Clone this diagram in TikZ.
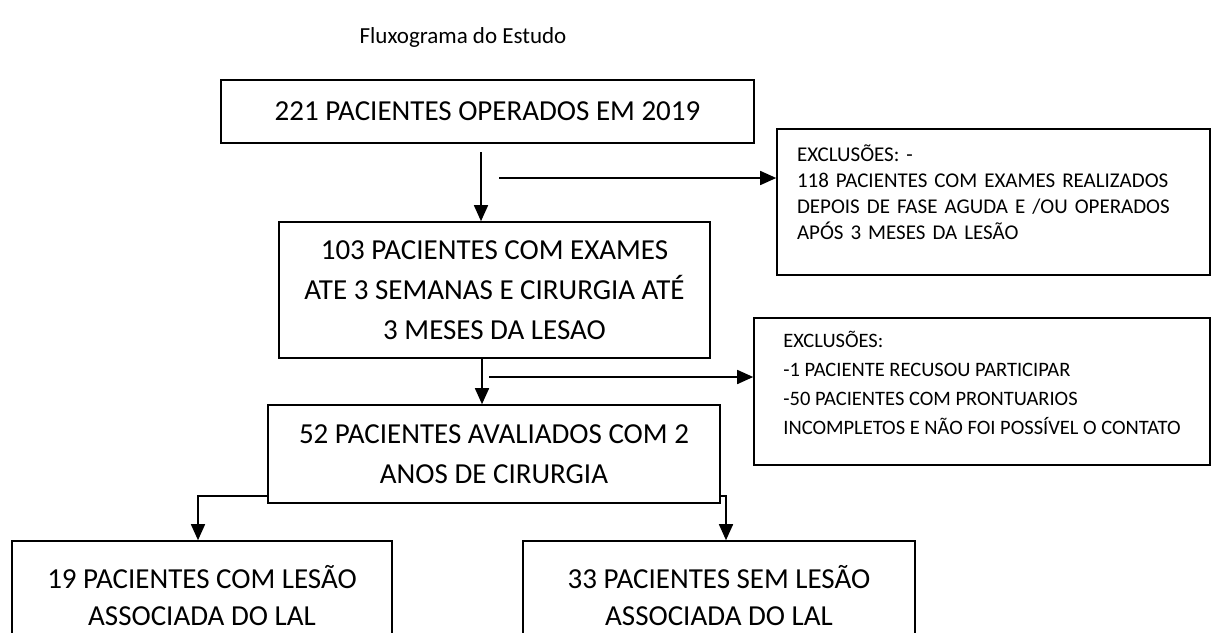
\documentclass[tikz,border=0pt]{standalone}
\usepackage{fontspec}
\setmainfont{Carlito}
\usepackage{tikz}
\usetikzlibrary{positioning, arrows.meta}

\begin{document}
\begin{tikzpicture}[
      x=1pt, y=-1pt,
      box/.style={draw, line width=1.6pt, align=center, inner sep=0pt,
                  font=\fontsize{29}{40}\selectfont},
      exbox/.style={draw, line width=1.6pt, align=left, inner xsep=20pt,
                  inner ysep=0pt, font=\fontsize{21}{26}\selectfont},
      arr/.style={-{Triangle[length=16pt, width=14pt]}, line width=1.6pt}
    ]
    \useasboundingbox (0,0) rectangle (1215,632);
    \clip (0,0) rectangle (1215,632);
    \node[font=\fontsize{23}{28}\selectfont] (title) at (463,37) {Fluxograma do Estudo};
    \node[box, minimum width=533pt, minimum height=63pt] (n221) at (487.5,111.5) {221 PACIENTES OPERADOS EM 2019};
    \node[box, minimum width=431pt, minimum height=136pt] (n103) at (494.5,290) {103 PACIENTES COM EXAMES\\ATE 3 SEMANAS E CIRURGIA ATÉ\\3 MESES DA LESAO};
    \node[exbox, text width=393pt, minimum height=146pt] (exc1) at (993.5,202) {EXCLUSÕES: -\\118 PACIENTES COM EXAMES REALIZADOS\\DEPOIS DE FASE AGUDA E /OU OPERADOS\\APÓS 3 MESES DA LESÃO\rule[-19pt]{0pt}{0pt}};
    \node[box, minimum width=452pt, minimum height=98pt] (n52) at (494,454) {52 PACIENTES AVALIADOS  COM 2\\ANOS DE CIRURGIA};
    \node[exbox, inner xsep=0pt, minimum width=456pt, minimum height=147pt, font=\fontsize{20.5}{29}\selectfont] (exc2) at (982,391.5) {EXCLUSÕES:\\-1 PACIENTE RECUSOU  PARTICIPAR\\-50 PACIENTES COM PRONTUARIOS\\INCOMPLETOS E NÃO FOI POSSÍVEL O CONTATO\rule[-17pt]{0pt}{0pt}};
    \node[box, minimum width=380pt, minimum height=110pt, font=\fontsize{29}{37}\selectfont] (n19) at (202,596) {19 PACIENTES COM LESÃO\\ASSOCIADA DO LAL};
    \node[box, minimum width=392pt, minimum height=110pt, font=\fontsize{29}{37}\selectfont] (n33) at (719,596) {33 PACIENTES SEM LESÃO\\ASSOCIADA DO LAL};
    \coordinate (s1) at (481,152);
    \coordinate (s2) at (499,178);
    \coordinate (s4) at (489,377);
    \draw[arr] (s1) -- (s1 |- n103.north);
    \draw[arr] (s2) -- (s2 -| exc1.west);
    \draw[arr] ([xshift=-12.5pt]n103.south) -- ([xshift=-12pt]n52.north);
    \draw[arr] (s4) -- (s4 -| exc2.west);
    \draw[arr] ([yshift=-42pt]n52.west) -| ([xshift=-4pt]n19.north);
    \draw[arr] ([yshift=-42pt]n52.east) -| ([xshift=7pt]n33.north);
  \end{tikzpicture}
\end{document}
